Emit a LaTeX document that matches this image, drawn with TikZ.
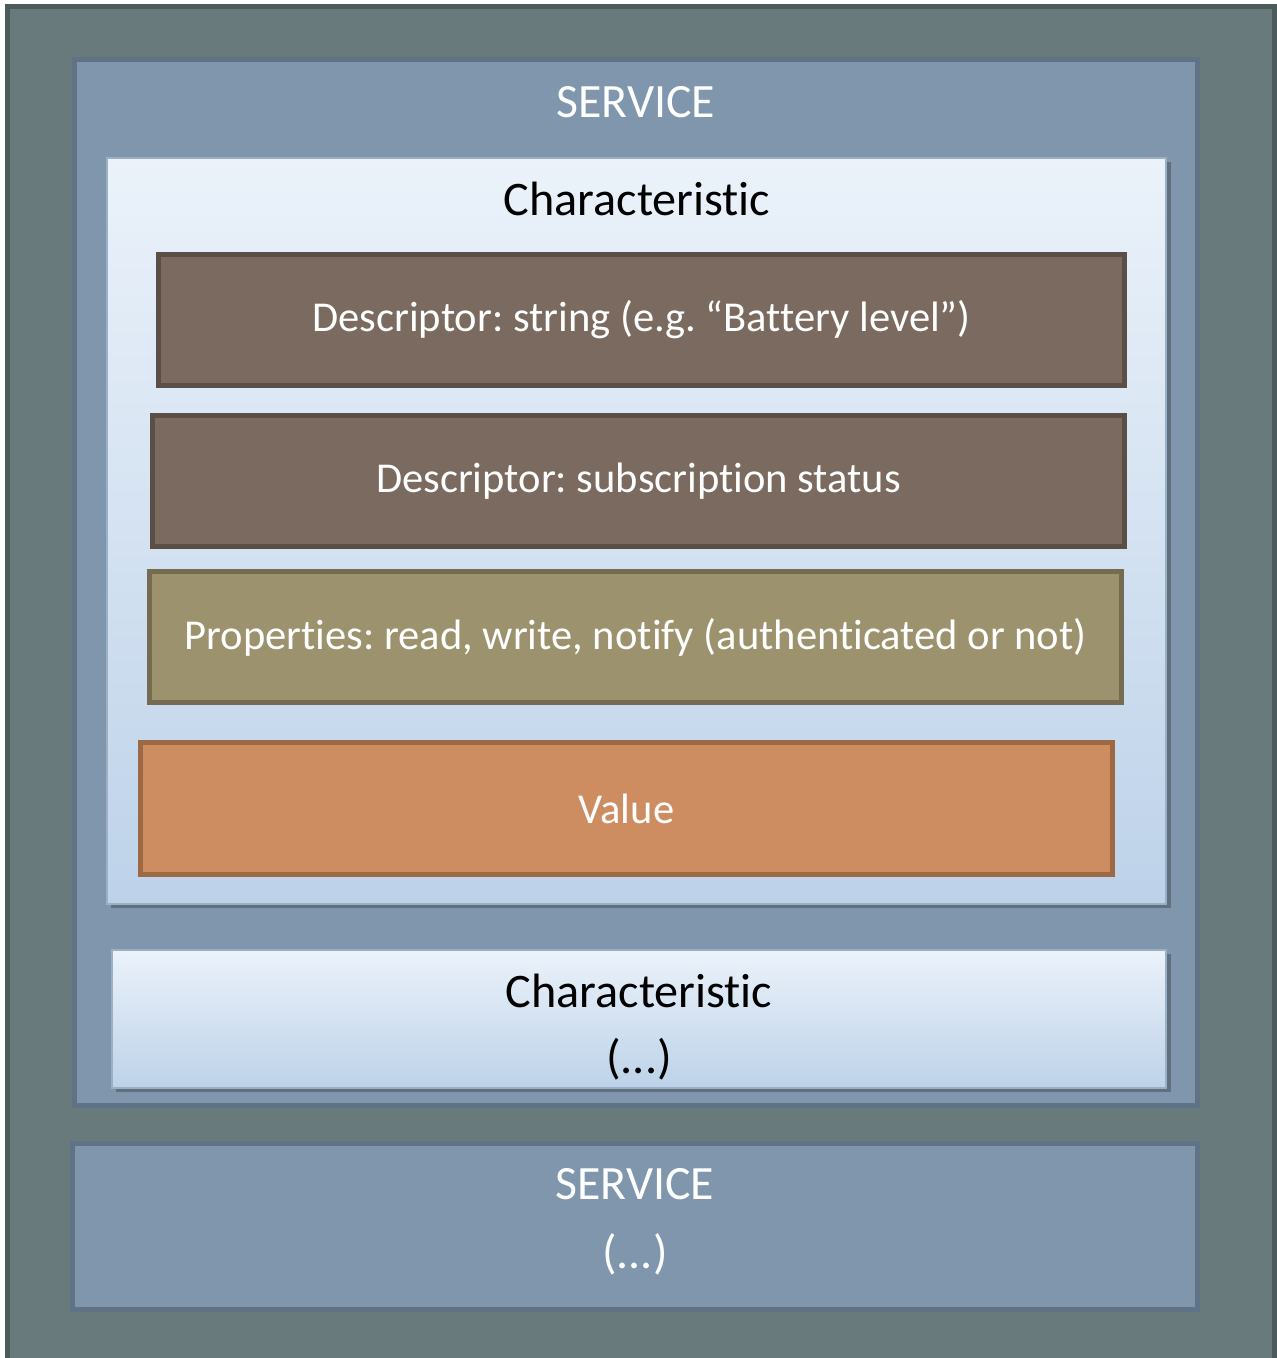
\documentclass[tikz,border=0pt]{standalone}
\usepackage{fontspec}
\setmainfont{Carlito}[Ligatures=NoCommon]
\usepackage{tikz}
\usetikzlibrary{shadows,positioning}

\definecolor{framefill}{HTML}{687A7B}
\definecolor{framedraw}{HTML}{4D5A5C}
\definecolor{servfill}{HTML}{7F96AD}
\definecolor{servdraw}{HTML}{5F7286}
\definecolor{chartop}{HTML}{EBF2FA}
\definecolor{charbottom}{HTML}{BDD2E9}
\definecolor{chardraw}{HTML}{9BB0C5}
\definecolor{descfill}{HTML}{7A6A5F}
\definecolor{descdraw}{HTML}{5B4E46}
\definecolor{propfill}{HTML}{9C926E}
\definecolor{propdraw}{HTML}{746B50}
\definecolor{valfill}{HTML}{CD8D61}
\definecolor{valdraw}{HTML}{9D6844}

\frenchspacing

\begin{document}
\begin{tikzpicture}[
              x=0.01cm, y=-0.01cm,
              layer/.style={rectangle, line width=1.42pt, inner sep=0pt},
              service/.style={layer, draw=servdraw, fill=servfill},
              charbox/.style={rectangle, draw=chardraw, line width=0.5pt,
                top color=chartop, bottom color=charbottom,
                drop shadow={shadow xshift=1.2pt, shadow yshift=-1.2pt,
                  fill=black, opacity=0.25}},
              field/.style={layer, text=white, font=\fontsize{12.1}{15}\selectfont,
                minimum width=9.72cm, minimum height=1.31cm},
              title/.style={text=white, font=\fontsize{13.6}{17}\selectfont},
              chartitle/.style={text=black, font=\fontsize{13.7}{17}\selectfont}
            ]

            \useasboundingbox (0,0) rectangle (1277,1358);

            % Frame
            \node[layer, draw=framedraw, fill=framefill,
                  minimum width=12.67cm, minimum height=13.63cm] (frame) at (641,688.75) {};

            % First service
            \node[service, minimum width=11.23cm, minimum height=10.46cm] (serv1) at (636,582.5) {};
            \node[title] (serv1title) at (636,102) {SERVICE};

            \node[charbox, minimum width=10.59cm, minimum height=7.46cm] (char1) at (636.5,531) {};
            \node[chartitle] (char1title) at (637,199) {Characteristic};

            \node[field, draw=descdraw, fill=descfill, minimum width=9.66cm] (desc1) at (641.5,320)
              {Descriptor: string (e.g. “Battery level”)};
            \node[field, draw=descdraw, fill=descfill] (desc2) at (638.5,481)
              {Descriptor: subscription status};
            \node[field, draw=propdraw, fill=propfill] (props) at (635.5,637)
              {Properties: read, write, notify (authenticated or not)};
            \node[field, draw=valdraw, fill=valfill, minimum height=1.32cm] (value) at (626.5,808.5)
              {Value};

            \node[charbox, minimum width=10.54cm, minimum height=1.38cm] (char2) at (639,1019) {};
            \node[chartitle, align=center, font=\fontsize{13.7}{18.9}\selectfont]
              (char2text) at (639,1027) {Characteristic\\(...)};

            % Second service
            \node[service, minimum width=11.25cm, minimum height=1.66cm] (serv2) at (635,1226.5) {};
            \node[title, align=center, font=\fontsize{13.6}{19.5}\selectfont]
              (serv2text) at (635,1222) {SERVICE\\(...)};

            \end{tikzpicture}
\end{document}
